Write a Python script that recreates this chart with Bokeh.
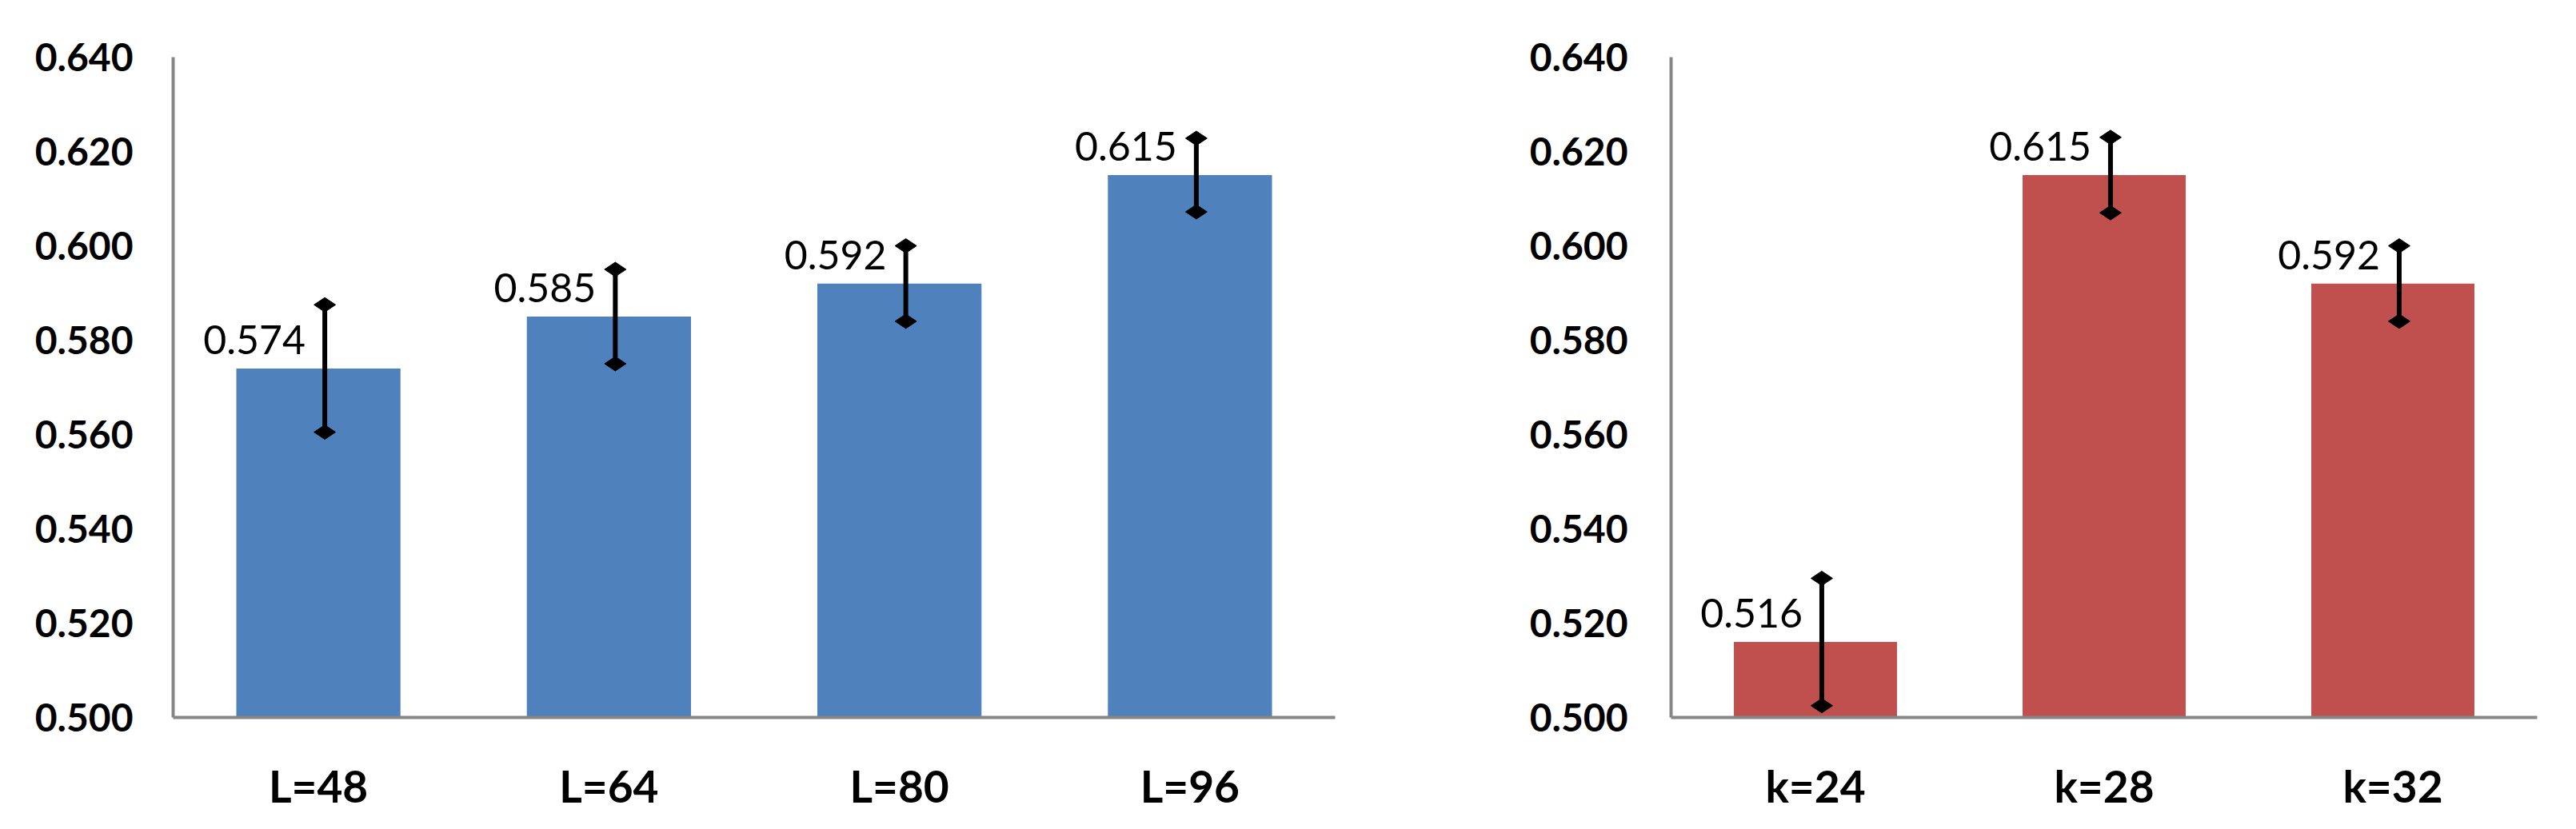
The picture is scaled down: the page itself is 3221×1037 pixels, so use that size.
import math
from bokeh.plotting import figure
from bokeh.models import ColumnDataSource, FactorRange, Range1d, FixedTicker, NumeralTickFormatter
from bokeh.transform import dodge
from bokeh.layouts import row
from bokeh.core.properties import value
from bokeh.embed import file_html
from bokeh.resources import INLINE

# ---- data ----
left_categories = ["L=48", "L=64", "L=80", "L=96"]
left_values = [0.574, 0.585, 0.592, 0.615]
left_errors = [0.0135, 0.010, 0.008, 0.0078]

right_categories = ["k=24", "k=28", "k=32"]
right_values = [0.516, 0.615, 0.592]
right_errors = [0.0135, 0.008, 0.008]

y_ticks = [0.50, 0.52, 0.54, 0.56, 0.58, 0.60, 0.62, 0.64]

FONT = "Lato"
AXIS_GRAY = "#868686"


def make_panel(cats, vals, errs, color, width, border_left, border_right, standoff):
    src = ColumnDataSource(dict(
        cat=cats,
        val=vals,
        lo=[v - e for v, e in zip(vals, errs)],
        hi=[v + e for v, e in zip(vals, errs)],
        lab=[f"{v:.3f}" for v in vals],
    ))
    p = figure(
        x_range=FactorRange(*cats), y_range=Range1d(y_ticks[0], y_ticks[-1]),
        width=width, height=1030, output_backend="svg", toolbar_location=None,
        min_border_left=border_left, min_border_right=border_right,
        min_border_top=71, min_border_bottom=133,
    )
    p.outline_line_color = None
    p.xgrid.grid_line_color = None
    p.ygrid.grid_line_color = None
    p.background_fill_color = "white"

    p.vbar(x="cat", top="val", bottom=y_ticks[0], width=0.565, source=src,
           fill_color=color, line_color=None)

    xe = dodge("cat", 0.022, range=p.x_range)
    p.segment(x0=xe, y0="lo", x1=xe, y1="hi", source=src, line_color="black", line_width=6)
    p.scatter(x=xe, y="hi", source=src, marker="diamond", size=27, angle=math.pi / 2,
              fill_color="black", line_color="black")
    p.scatter(x=xe, y="lo", source=src, marker="diamond", size=27, angle=math.pi / 2,
              fill_color="black", line_color="black")

    p.text(x="cat", y="val", text="lab", source=src, x_offset=-16, y_offset=-36,
           text_align="right", text_baseline="alphabetic",
           text_font=value(FONT), text_font_size="50px", text_color="black")

    for ax in (p.xaxis[0], p.yaxis[0]):
        ax.axis_line_color = AXIS_GRAY
        ax.axis_line_width = 4
        ax.major_tick_line_color = None
        ax.minor_tick_line_color = None
        ax.major_tick_out = 0
        ax.major_tick_in = 0
        ax.major_label_text_font = FONT
        ax.major_label_text_font_style = "bold"
        ax.major_label_text_color = "black"

    p.yaxis[0].ticker = FixedTicker(ticks=y_ticks)
    p.yaxis[0].formatter = NumeralTickFormatter(format="0.000")
    p.yaxis[0].major_label_text_font_size = "48px"
    p.yaxis[0].major_label_standoff = standoff

    p.xaxis[0].major_label_text_font_size = "55px"
    p.xaxis[0].major_label_standoff = 52
    return p


p1 = make_panel(left_categories, left_values, left_errors, "#4F81BD",
                width=1760, border_left=216, border_right=91, standoff=50)
p2 = make_panel(right_categories, right_values, right_errors, "#C0504D",
                width=1450, border_left=329, border_right=38, standoff=54)

layout = row(p1, p2)
open("out.html", "w").write(file_html(layout, INLINE))
